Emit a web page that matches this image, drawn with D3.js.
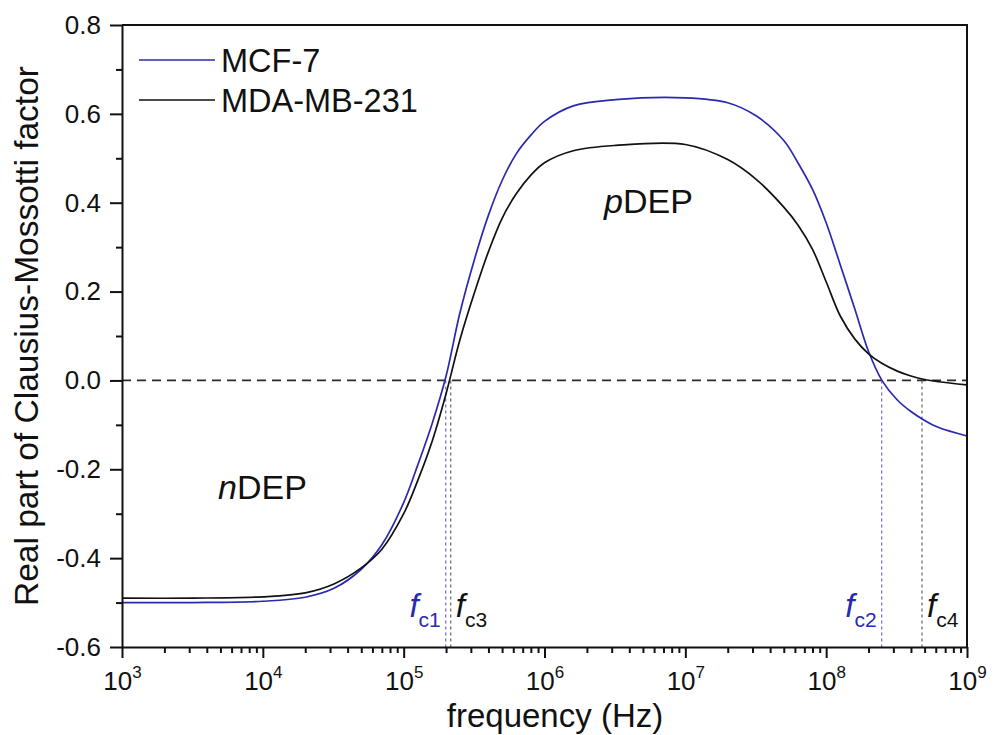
<!DOCTYPE html>
<html>
<head>
<meta charset="utf-8">
<script src="https://cdn.jsdelivr.net/npm/d3@7"></script>
<style>
  body { margin: 0; background: #fff; }
  svg { font-family: Arial, "Liberation Sans", sans-serif; }
</style>
</head>
<body>
<div id="chart"></div>
<script>
// frequencies (Hz) at which the curves were read
const freqHz = [1e3, 3.2e3, 1e4, 2e4, 3.2e4, 5e4, 7e4, 1e5, 1.26e5, 1.6e5, 2e5, 2.5e5,
  3.2e5, 4e5, 5e5, 6.3e5, 8e5, 1e6, 1.6e6, 3.2e6, 1e7, 2e7, 3.2e7, 5e7, 6.3e7, 8e7,
  1e8, 1.26e8, 1.6e8, 2e8, 2.5e8, 3.2e8, 4e8, 5e8, 6.3e8, 1e9];

// Re[K] for MCF-7 (blue)
const mcf7 = [-0.500, -0.500, -0.497, -0.488, -0.468, -0.425, -0.37, -0.275, -0.19, -0.095, 0.01, 0.15,
  0.275, 0.372, 0.45, 0.51, 0.552, 0.583, 0.618, 0.632, 0.636, 0.625, 0.595, 0.54, 0.49, 0.43,
  0.355, 0.26, 0.16, 0.065, -0.001, -0.044, -0.07, -0.09, -0.106, -0.125];

// Re[K] for MDA-MB-231 (black)
const mda231 = [-0.490, -0.490, -0.487, -0.478, -0.458, -0.422, -0.38, -0.30, -0.225, -0.135, -0.03, 0.09,
  0.20, 0.29, 0.365, 0.42, 0.462, 0.49, 0.517, 0.529, 0.531, 0.497, 0.452, 0.39, 0.35, 0.295,
  0.222, 0.145, 0.093, 0.06, 0.038, 0.021, 0.01, 0.002, -0.003, -0.01];

// crossover frequencies
const fcMcf7 = [1.99e5, 2.48e8];
const fcMda = [2.16e5, 4.79e8];
const fcMcf7Names = ['c1', 'c2'];
const fcMdaNames = ['c3', 'c4'];

const xMajor = [1e3, 1e4, 1e5, 1e6, 1e7, 1e8, 1e9];
const xExp = ['3', '4', '5', '6', '7', '8', '9'];
const yMajor = [-0.6, -0.4, -0.2, 0.0, 0.2, 0.4, 0.6, 0.8];
const yMinor = [-0.5, -0.3, -0.1, 0.1, 0.3, 0.5, 0.7];

const series = [
  {name: 'MCF-7', values: mcf7, color: '#2a2ab0'},
  {name: 'MDA-MB-231', values: mda231, color: '#111'}
];

const W = 995, H = 735;
const margin = {top: 25, right: 28, bottom: 88, left: 122};
const width = W - margin.left - margin.right,
  height = H - margin.top - margin.bottom;

const svg = d3.select('#chart').append('svg')
  .attr('width', W)
  .attr('height', H);

const g = svg.append('g')
  .attr('transform', 'translate(' + margin.left + ',' + margin.top + ')');

const x = d3.scaleLog().domain([1e3, 1e9]).range([0, width]);
const y = d3.scaleLinear().domain([-0.6, 0.8]).range([height, 0]);

// minor ticks of the log axis: 2..9 in every decade
const xMinor = [];
xMajor.slice(0, -1).forEach(d => {
  for (let k = 2; k <= 9; k++) xMinor.push(d * k);
});

// zero line
g.append('line')
  .attr('x1', 0).attr('x2', width)
  .attr('y1', y(0)).attr('y2', y(0))
  .attr('stroke', '#2a2a2a')
  .attr('stroke-width', 1.7)
  .attr('stroke-dasharray', '9,6');

// crossover drop lines
const drops = fcMcf7.map((f, i) => ({f: f, name: fcMcf7Names[i], color: '#5a5ad0', text: '#2a2ab0', side: 'left'}))
  .concat(fcMda.map((f, i) => ({f: f, name: fcMdaNames[i], color: '#555', text: '#111', side: 'right'})));

g.selectAll('.drop')
  .data(drops)
  .enter()
  .append('line')
  .attr('class', 'drop')
  .attr('x1', d => x(d.f)).attr('x2', d => x(d.f))
  .attr('y1', y(0)).attr('y2', height)
  .attr('stroke', d => d.color)
  .attr('stroke-width', 1.1)
  .attr('stroke-dasharray', '3,3');

const fcLabel = g.selectAll('.fc')
  .data(drops)
  .enter()
  .append('text')
  .attr('class', 'fc')
  .attr('x', d => d.side === 'left' ? x(d.f) - 5 : x(d.f) + 5)
  .attr('y', 592)
  .attr('text-anchor', d => d.side === 'left' ? 'end' : 'start')
  .attr('fill', d => d.text);
fcLabel.append('tspan')
  .style('font-style', 'italic')
  .style('font-size', '33px')
  .text('f');
fcLabel.append('tspan')
  .attr('dy', 10)
  .style('font-size', '21px')
  .text(d => d.name);

// curves
const line = d3.line()
  .x((d, i) => x(freqHz[i]))
  .y(d => y(d))
  .curve(d3.curveCatmullRom.alpha(0.5));

g.selectAll('.curve')
  .data(series)
  .enter()
  .append('path')
  .attr('class', 'curve')
  .attr('fill', 'none')
  .attr('stroke', d => d.color)
  .attr('stroke-width', 1.7)
  .attr('d', d => line(d.values));

// axes
const xAxis = g.append('g')
  .attr('transform', 'translate(0,' + height + ')')
  .call(d3.axisBottom(x).tickValues(xMajor).tickSize(11).tickSizeOuter(0).tickFormat(''));
g.append('g')
  .attr('transform', 'translate(0,' + height + ')')
  .call(d3.axisBottom(x).tickValues(xMinor).tickSize(6).tickSizeOuter(0).tickFormat(''))
  .select('.domain').remove();

xAxis.selectAll('.tick').append('text')
  .attr('fill', '#111')
  .attr('y', 43)
  .attr('text-anchor', 'middle')
  .style('font-size', '26px')
  .each(function(d, i) {
    const t = d3.select(this);
    t.append('tspan').text('10');
    t.append('tspan').attr('dy', -12).style('font-size', '17px').text(xExp[i]);
  });

const yAxis = g.append('g')
  .call(d3.axisLeft(y).tickValues(yMajor).tickSize(12).tickSizeOuter(0).tickPadding(9)
    .tickFormat(d => d.toFixed(1)));
yAxis.selectAll('text')
  .attr('fill', '#111')
  .style('font-size', '26px');
g.append('g')
  .call(d3.axisLeft(y).tickValues(yMinor).tickSize(6).tickSizeOuter(0).tickFormat(''))
  .select('.domain').remove();

g.selectAll('.domain, .tick line')
  .attr('stroke', '#111')
  .attr('stroke-width', 2);

// top and right frame
g.append('path')
  .attr('d', 'M0,0H' + width + 'V' + height)
  .attr('fill', 'none')
  .attr('stroke', '#111')
  .attr('stroke-width', 2);

// axis titles
svg.append('text')
  .attr('x', 555)
  .attr('y', 727)
  .attr('text-anchor', 'middle')
  .attr('fill', '#111')
  .style('font-size', '33px')
  .text('frequency (Hz)');

svg.append('text')
  .attr('transform', 'translate(38,' + (margin.top + height / 2) + ') rotate(-90)')
  .attr('text-anchor', 'middle')
  .attr('fill', '#111')
  .style('font-size', '33.5px')
  .text('Real part of Clausius-Mossotti factor');

// region labels
const regions = g.append('g').attr('fill', '#111').style('font-size', '34px');
const nLab = regions.append('text').attr('x', 96).attr('y', 474);
nLab.append('tspan').style('font-style', 'italic').text('n');
nLab.append('tspan').text('DEP');
const pLab = regions.append('text').attr('x', 482).attr('y', 188);
pLab.append('tspan').style('font-style', 'italic').text('p');
pLab.append('tspan').text('DEP');

// legend
const legend = g.append('g')
  .attr('transform', 'translate(17,35)');
const item = legend.selectAll('g')
  .data(series)
  .enter()
  .append('g')
  .attr('transform', (d, i) => 'translate(0,' + i * 40 + ')');
item.append('line')
  .attr('x1', 0).attr('x2', 76)
  .attr('stroke', d => d.color)
  .attr('stroke-width', 1.7);
item.append('text')
  .attr('x', 82)
  .attr('y', 12)
  .attr('fill', '#111')
  .style('font-size', '32.5px')
  .text(d => d.name);
</script>
</body>
</html>
